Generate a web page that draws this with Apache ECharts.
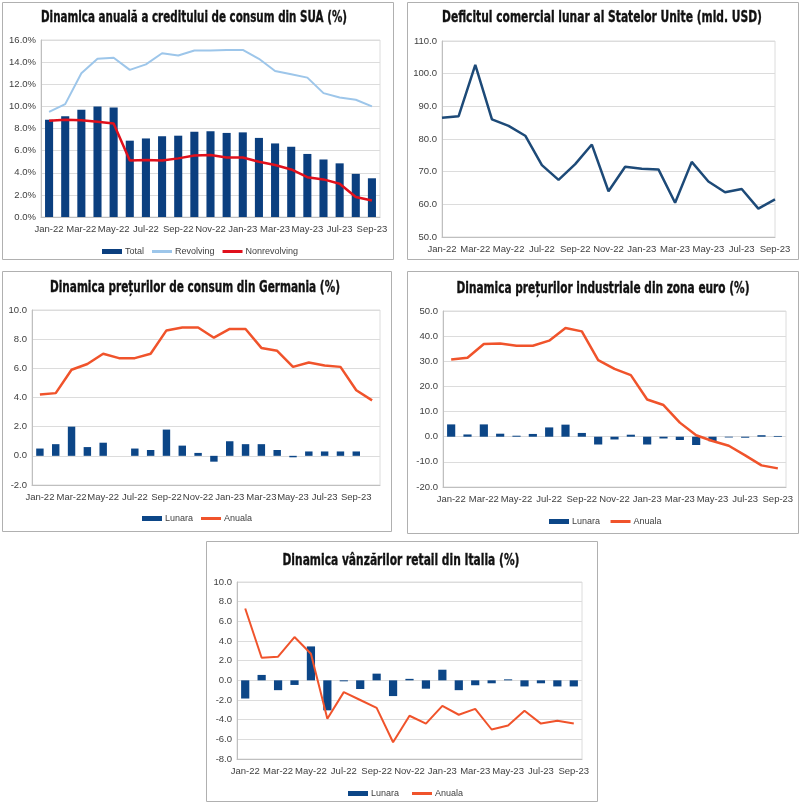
<!DOCTYPE html>
<html>
<head>
<meta charset="utf-8">
<script src="https://cdn.jsdelivr.net/npm/echarts@6/dist/echarts.min.js"></script>
<style>html,body{margin:0;padding:0;background:#fff}#c{width:800px;height:803px}</style>
</head>
<body>
<div id="c"></div>
<script>
// ---- categories ----
var cats21 = ['Jan-22','Feb-22','Mar-22','Apr-22','May-22','Jun-22','Jul-22','Aug-22','Sep-22','Oct-22','Nov-22','Dec-22','Jan-23','Feb-23','Mar-23','Apr-23','May-23','Jun-23','Jul-23','Aug-23','Sep-23'];
var cats22 = ['Jan-22','Feb-22','Mar-22','Apr-22','May-22','Jun-22','Jul-22','Aug-22','Sep-22','Oct-22','Nov-22','Dec-22','Jan-23','Feb-23','Mar-23','Apr-23','May-23','Jun-23','Jul-23','Aug-23','Sep-23','Oct-23'];

// ---- panel 1: US consumer credit (%) ----
var usTotal = [8.8,9.1,9.7,10.0,9.9,6.9,7.1,7.3,7.35,7.7,7.75,7.6,7.65,7.15,6.65,6.35,5.7,5.2,4.85,3.9,3.5];
var usRevolving = [9.5,10.2,13.0,14.3,14.4,13.3,13.8,14.8,14.6,15.05,15.05,15.1,15.1,14.3,13.2,12.9,12.6,11.2,10.8,10.6,10.0];
var usNonrevolving = [8.7,8.8,8.75,8.6,8.45,5.1,5.15,5.1,5.3,5.55,5.6,5.38,5.38,5.0,4.7,4.3,3.6,3.4,3.0,1.8,1.5];

// ---- panel 2: US trade deficit (bn USD) ----
var usDeficit = [86.5,87.0,102.7,86.0,84.0,81.0,72.0,67.5,72.3,78.3,64.0,71.5,70.9,70.7,60.5,73.0,67.0,63.7,64.7,58.7,61.5];

// ---- panel 3: Germany CPI (%) ----
var deLunara = [0.5,0.8,2.0,0.6,0.9,0.0,0.5,0.4,1.8,0.7,0.2,-0.4,1.0,0.8,0.8,0.4,-0.1,0.3,0.3,0.3,0.3,null];
var deAnuala = [4.2,4.3,5.9,6.3,7.0,6.7,6.7,7.0,8.6,8.8,8.8,8.1,8.7,8.7,7.4,7.2,6.1,6.4,6.2,6.1,4.5,3.8];

// ---- panel 4: Euro area PPI (%) ----
var ezLunara = [4.9,0.9,4.9,1.2,0.4,1.1,3.7,4.8,1.5,-3.1,-1.1,0.8,-3.1,-0.7,-1.3,-3.3,-1.8,-0.3,-0.4,0.6,0.3];
var ezAnuala = [30.7,31.4,36.9,37.1,36.2,36.2,38.2,43.2,41.9,30.5,27.0,24.5,14.8,12.6,5.6,0.6,-1.7,-3.6,-7.4,-11.4,-12.6];

// ---- panel 5: Italy retail sales (%) ----
var itLunara = [-1.85,0.55,-1.0,-0.47,3.45,-3.05,-0.1,-0.88,0.68,-1.6,0.15,-0.85,1.08,-1.0,-0.5,-0.3,0.1,-0.62,-0.3,-0.62,-0.62];
var itAnuala = [7.3,2.3,2.4,4.4,2.7,-3.9,-1.2,-2.0,-2.8,-6.3,-3.6,-4.4,-2.6,-3.5,-2.9,-5.0,-4.6,-3.1,-4.4,-4.1,-4.4];

// ---- titles ----
var titles = [
  'Dinamica anuală a creditului de consum din SUA (%)',
  'Deficitul comercial lunar al Statelor Unite (mld. USD)',
  'Dinamica prețurilor de consum din Germania (%)',
  'Dinamica prețurilor industriale din zona euro (%)',
  'Dinamica vânzărilor retail din Italia (%)'
];

var NAVY = '#0b3f7f';
var NAVY2 = '#0c4687';
var ORANGE = '#f0532b';
var LBLUE = '#9dc6ea';
var RED = '#e0101c';
var LINE2 = '#1d4a78';
var GRID = '#dcdcdc';
var LBL = '#404040';
var FONT = '"Liberation Sans", Arial, sans-serif';
var TFONT_CSS = 'bold 15.5px "DejaVu Sans Condensed", "DejaVu Sans", sans-serif';

var grids = [
  {left:41, top:40, width:339, height:177},
  {left:442, top:41, width:333, height:196},
  {left:32, top:310, width:348, height:175},
  {left:443, top:311, width:343, height:176},
  {left:237, top:582, width:345, height:177}
];
grids.forEach(function(g){ g.show = true; g.borderColor = GRID; g.borderWidth = 1; g.containLabel = false; });

function xAx(i, data, gap) {
  return {
    type:'category', gridIndex:i, data:data, boundaryGap:gap,
    axisLine:{onZero:false, lineStyle:{color:'#bfbfbf'}},
    axisTick:{show:false},
    axisLabel:{interval:1, color:LBL, fontSize:9.5, fontFamily:FONT, margin:7},
    splitLine:{show:false}
  };
}
function yAx(i, min, max, step, suffix) {
  return {
    type:'value', gridIndex:i, min:min, max:max, interval:step,
    axisLine:{show:true, lineStyle:{color:'#bfbfbf'}},
    axisTick:{show:false},
    axisLabel:{color:LBL, fontSize:9.5, fontFamily:FONT, margin:5,
      formatter:function(v){ return v.toFixed(1) + (suffix||''); }},
    splitLine:{show:true, lineStyle:{color:GRID, width:1}}
  };
}

var boxes = [
  [2,2,391,257],
  [407,2,391,257],
  [2,271,389,260],
  [407,271,391,262],
  [206,541,391,260]
];
// title centre x, centre y, target width
var titlePos = [[194,18,306],[602,18,320],[195,288,290],[603,289,293],[401,561,237]];

var measureCtx = document.createElement('canvas').getContext('2d');
measureCtx.font = TFONT_CSS;

var graphics = [];
boxes.forEach(function(b){
  graphics.push({type:'rect', shape:{x:b[0]+0.5,y:b[1]+0.5,width:b[2],height:b[3]}, style:{fill:'none', stroke:'#b0b0b0', lineWidth:1}, silent:true});
});
titles.forEach(function(t,i){
  var w = measureCtx.measureText(t).width;
  var sx = w > 0 ? titlePos[i][2] / w : 0.75;
  graphics.push({type:'text', x:titlePos[i][0], y:titlePos[i][1], scaleX:sx,
    style:{text:t, fill:'#111', stroke:'#111', lineWidth:0.35, font:TFONT_CSS, align:'center', verticalAlign:'middle', textAlign:'center', textVerticalAlign:'middle'}});
});

var LINE_ICON = 'path://M0,0L20,0L20,3L0,3Z';
var legBase = {padding:0, itemWidth:20, itemHeight:5, itemGap:8, textStyle:{color:LBL, fontSize:9, fontFamily:FONT, padding:[0,0,0,-2]}};

var option = {
  animation:false,
  backgroundColor:'#fff',
  grid: grids,
  xAxis: [xAx(0,cats21,true), xAx(1,cats21,false), xAx(2,cats22,true), xAx(3,cats21,true), xAx(4,cats21,true)],
  yAxis: [yAx(0,0,16,2,'%'), yAx(1,50,110,10), yAx(2,-2,10,2), yAx(3,-20,50,10), yAx(4,-8,10,2)],
  legend: [
    Object.assign({}, legBase, {left:102, top:247, data:[{name:'Total',icon:'rect'},{name:'Revolving',icon:LINE_ICON},{name:'Nonrevolving',icon:LINE_ICON}]}),
    Object.assign({}, legBase, {left:142, top:514, data:[{name:'Lunara',icon:'rect'},{name:'Anuala',icon:LINE_ICON}]}),
    Object.assign({}, legBase, {left:549, top:517, data:[{name:'Lunara ',icon:'rect'},{name:'Anuala ',icon:LINE_ICON}]}),
    Object.assign({}, legBase, {left:348, top:789, data:[{name:'Lunara  ',icon:'rect'},{name:'Anuala  ',icon:LINE_ICON}]})
  ],
  graphic: graphics,
  series: [
    {name:'Total', type:'bar', xAxisIndex:0, yAxisIndex:0, data:usTotal, barWidth:'50%', itemStyle:{color:NAVY}},
    {name:'Revolving', type:'line', xAxisIndex:0, yAxisIndex:0, data:usRevolving, symbol:'none', lineStyle:{color:LBLUE, width:2}, itemStyle:{color:LBLUE}, z:3},
    {name:'Nonrevolving', type:'line', xAxisIndex:0, yAxisIndex:0, data:usNonrevolving, symbol:'none', lineStyle:{color:RED, width:2.5}, itemStyle:{color:RED}, z:4},
    {name:'Deficit', type:'line', xAxisIndex:1, yAxisIndex:1, data:usDeficit, symbol:'none', lineStyle:{color:LINE2, width:2.5}, itemStyle:{color:LINE2}},
    {name:'Lunara', type:'bar', xAxisIndex:2, yAxisIndex:2, data:deLunara, barWidth:'47%', itemStyle:{color:NAVY2}},
    {name:'Anuala', type:'line', xAxisIndex:2, yAxisIndex:2, data:deAnuala, symbol:'none', lineStyle:{color:ORANGE, width:2.5}, itemStyle:{color:ORANGE}, z:4},
    {name:'Lunara ', type:'bar', xAxisIndex:3, yAxisIndex:3, data:ezLunara, barWidth:'50%', itemStyle:{color:NAVY2}},
    {name:'Anuala ', type:'line', xAxisIndex:3, yAxisIndex:3, data:ezAnuala, symbol:'none', lineStyle:{color:ORANGE, width:2.5}, itemStyle:{color:ORANGE}, z:4},
    {name:'Lunara  ', type:'bar', xAxisIndex:4, yAxisIndex:4, data:itLunara, barWidth:'50%', itemStyle:{color:NAVY2}},
    {name:'Anuala  ', type:'line', xAxisIndex:4, yAxisIndex:4, data:itAnuala, symbol:'none', lineStyle:{color:ORANGE, width:2}, itemStyle:{color:ORANGE}, z:4}
  ]
};
var chart = echarts.init(document.getElementById('c'), null, {renderer:'canvas'});
chart.setOption(option);
</script>
</body>
</html>
